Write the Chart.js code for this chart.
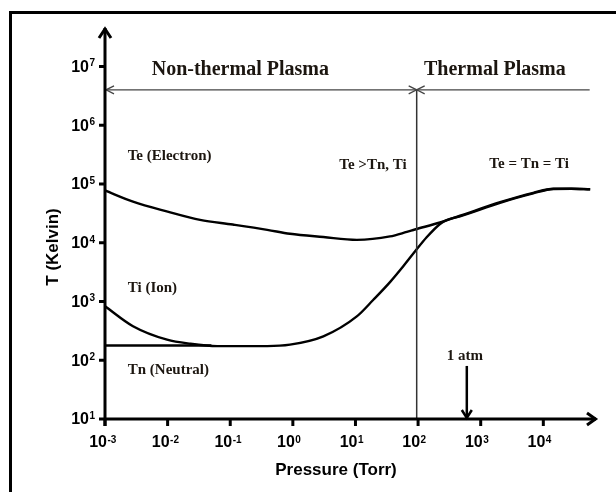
<!DOCTYPE html>
<html>
<head>
<meta charset="utf-8">
<script src="https://cdn.jsdelivr.net/npm/chart.js@4.4.1/dist/chart.umd.min.js"></script>
<style>
html,body{margin:0;padding:0;background:#fff}
canvas{display:block}
</style>
</head>
<body>
<canvas id="c" width="616" height="492"></canvas>
<script>
/* ---- data (pressure in Torr, temperature in K) ---- */
const pElectron=[0.001,0.0028,0.01,0.033,0.11,0.39,0.9,3.07,10.5,35.6,66,89,224,468,2040,6900,14500,28000,56000];
const tElectron=[77600,50100,33900,24500,20400,16600,14200,12500,11200,12800,15300,16800,22100,28800,49000,70800,83200,83200,81300];
const pIon=[0.001,0.0028,0.0098,0.023,0.062,0.39,0.9,3.07,10.5,19.3,35.6,58,89,137,224,286,468,2040,6900,14500,28000,56000];
const tIon=[832,380,224,191,174,174,184,255,557,1070,2140,3980,7080,12400,20900,24300,28200,47900,69200,82200,82800,80900];
const pNeutral=[0.001,0.05];
const tNeutral=[178,178];

const xTicks=[1e-3,1e-2,1e-1,1,10,100,1000,10000];
const xTickExp=['-3','-2','-1','0','1','2','3','4'];
const yTicks=[10,100,1e3,1e4,1e5,1e6,1e7];
const yTickExp=['1','2','3','4','5','6','7'];

const xTitle='Pressure (Torr)';
const yTitle='T (Kelvin)';
const regionNames=['Non-thermal Plasma','Thermal Plasma'];
const curveNames=['Te (Electron)','Ti (Ion)','Tn (Neutral)','Te >Tn, Ti','Te = Tn = Ti','1 atm'];

// where things sit, in data units
const xMin=1e-3, xMax=72000, yMin=10, yMax=4.7e7;
const divideP=95, bracketT=4e6, bracketEndP=55000;
const atmP=600, atmTopT=80;

const pts=(xs,ys)=>xs.map((x,i)=>({x,y:ys[i]}));
const curve=d=>({data:d,borderColor:'#000',borderWidth:2.4,pointRadius:0,fill:false,cubicInterpolationMode:'monotone'});

const SANS='"Liberation Sans", Arial, sans-serif';
const SERIF='"Liberation Serif", "Times New Roman", serif';
const INK='#1c1610';

function line(ctx,pts){ctx.beginPath();ctx.moveTo(pts[0][0],pts[0][1]);pts.slice(1).forEach(p=>ctx.lineTo(p[0],p[1]));ctx.stroke();}

const decor={
  id:'decor',
  beforeDraw(ch){
    const ctx=ch.ctx;
    ctx.save();
    ctx.fillStyle='#fff';ctx.fillRect(0,0,ch.width,ch.height);
    // picture frame (top + left edge)
    ctx.fillStyle='#000';
    ctx.fillRect(9,11,ch.width-9,3);
    ctx.fillRect(9,11,3,ch.height-11);
    ctx.restore();
  },
  afterDatasetsDraw(ch){
    const ctx=ch.ctx, a=ch.chartArea, xs=ch.scales.x, ys=ch.scales.y;
    const X=v=>xs.getPixelForValue(v), Y=v=>ys.getPixelForValue(v);
    ctx.save();
    ctx.strokeStyle='#000';ctx.lineCap='butt';ctx.lineJoin='miter';

    // region divider + bracket
    ctx.lineWidth=1.5;ctx.strokeStyle='#333';
    line(ctx,[[X(divideP),Y(bracketT)],[X(divideP),a.bottom]]);
    ctx.lineWidth=1.3;ctx.strokeStyle='#444';
    const by=Y(bracketT), dx=X(divideP);
    line(ctx,[[a.left+1,by],[X(bracketEndP),by]]);
    line(ctx,[[a.left+9,by-4],[a.left+1,by],[a.left+9,by+4]]);
    line(ctx,[[dx-8,by-4],[dx,by],[dx-8,by+4]]);
    line(ctx,[[dx+8,by-4],[dx,by],[dx+8,by+4]]);

    // axes
    ctx.strokeStyle='#000';ctx.lineWidth=3;
    line(ctx,[[a.left,a.bottom+7],[a.left,a.top+1]]);
    line(ctx,[[a.left-6,a.top+11],[a.left,a.top+2],[a.left+6,a.top+11]]);
    line(ctx,[[a.left-1,a.bottom],[a.right-1,a.bottom]]);
    line(ctx,[[a.right-10,a.bottom-6],[a.right-1.5,a.bottom],[a.right-10,a.bottom+6]]);

    // ticks + labels
    ctx.fillStyle='#000';
    yTicks.forEach((v,i)=>{
      const y=Y(v);
      line(ctx,[[a.left-6,y],[a.left,y]]);
      ctx.font='bold 16px '+SANS;ctx.textAlign='right';ctx.textBaseline='middle';
      ctx.fillText('10',a.left-16,y+1);
      ctx.font='bold 10px '+SANS;ctx.textAlign='left';ctx.textBaseline='alphabetic';
      ctx.fillText(yTickExp[i],a.left-15.5,y);
    });
    xTicks.forEach((v,i)=>{
      const x=X(v);
      line(ctx,[[x,a.bottom],[x,a.bottom+7]]);
      ctx.font='bold 16px '+SANS;ctx.textAlign='right';ctx.textBaseline='middle';
      ctx.fillText('10',x+2,a.bottom+24);
      ctx.font='bold 10px '+SANS;ctx.textAlign='left';ctx.textBaseline='alphabetic';
      ctx.fillText(xTickExp[i],x+2.5,a.bottom+24);
    });

    // axis titles
    ctx.font='bold 17px '+SANS;ctx.textAlign='center';ctx.textBaseline='middle';
    ctx.fillText(xTitle,a.left+231,a.bottom+51);
    ctx.save();ctx.translate(53,247);ctx.rotate(-Math.PI/2);ctx.fillText(yTitle,0,0);ctx.restore();

    // 1 atm arrow
    const ax=X(atmP);
    ctx.lineWidth=2.5;
    line(ctx,[[ax,Y(atmTopT)],[ax,a.bottom-1]]);
    line(ctx,[[ax-5,a.bottom-9],[ax,a.bottom-1],[ax+5,a.bottom-9]]);

    // serif annotations
    ctx.fillStyle=INK;ctx.textAlign='left';ctx.textBaseline='middle';
    ctx.font='bold 20px '+SERIF;
    ctx.fillText(regionNames[0],X(Math.pow(10,-2.254)),Y(Math.pow(10,6.94)));
    ctx.fillText(regionNames[1],X(Math.pow(10,2.095)),Y(Math.pow(10,6.94)));
    ctx.font='bold 15px '+SERIF;
    const spots=[[-2.637,5.469],[-2.637,3.229],[-2.637,1.827],[0.742,5.327],[3.138,5.344],[2.456,2.066]];
    curveNames.forEach((t,i)=>ctx.fillText(t,X(Math.pow(10,spots[i][0])),Y(Math.pow(10,spots[i][1]))));
    ctx.restore();
  }
};

new Chart(document.getElementById('c'),{
  type:'line',
  data:{datasets:[curve(pts(pElectron,tElectron)),curve(pts(pIon,tIon)),curve(pts(pNeutral,tNeutral))]},
  options:{
    responsive:false,animation:false,devicePixelRatio:1,
    layout:{padding:{left:105,top:27,right:19,bottom:73}},
    plugins:{legend:{display:false},tooltip:{enabled:false}},
    scales:{
      x:{type:'logarithmic',min:xMin,max:xMax,display:false},
      y:{type:'logarithmic',min:yMin,max:yMax,display:false}
    }
  },
  plugins:[decor]
});
</script>
</body>
</html>
